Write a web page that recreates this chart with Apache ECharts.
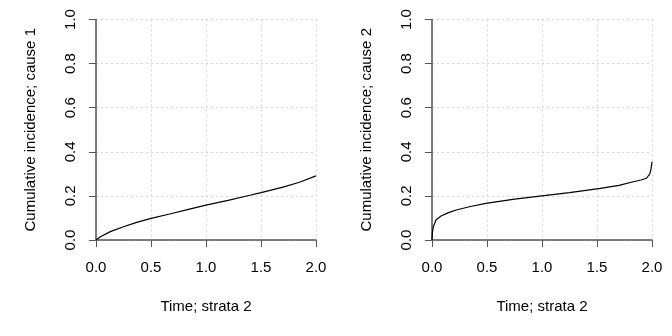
<!DOCTYPE html>
<html><head><meta charset="utf-8">
<script src="https://cdn.jsdelivr.net/npm/echarts@6/dist/echarts.min.js"></script>
<style>html,body{margin:0;padding:0;background:#fff}#c{width:672px;height:336px}</style>
</head><body><div id="c"></div>
<script>
var xTicks = [0, 0.5, 1.0, 1.5, 2.0];
var yTicks = [0, 0.2, 0.4, 0.6, 0.8, 1.0];
var xTitle = 'Time; strata 2';
var yTitle1 = 'Cumulative incidence; cause 1';
var yTitle2 = 'Cumulative incidence; cause 2';
var time1 = [0, 0.04, 0.13, 0.25, 0.37, 0.5, 0.67, 0.85, 1.0, 1.2, 1.4, 1.5, 1.7, 1.85, 2.0];
var cif1  = [0, 0.015, 0.038, 0.06, 0.08, 0.098, 0.118, 0.14, 0.158, 0.18, 0.203, 0.215, 0.24, 0.262, 0.291];
var time2 = [0, 0.004, 0.012, 0.036, 0.082, 0.15, 0.22, 0.35, 0.49, 0.75, 1.0, 1.25, 1.53, 1.7, 1.83, 1.9, 1.95, 1.98, 1.99, 2.0];
var cif2  = [0, 0.035, 0.06, 0.091, 0.109, 0.124, 0.136, 0.152, 0.166, 0.185, 0.2, 0.215, 0.234, 0.248, 0.264, 0.272, 0.28, 0.30, 0.32, 0.355];

function pairs(t, v) { return t.map(function (x, i) { return [x, v[i]]; }); }
var FONT = 'Liberation Sans, Arial, sans-serif';
var FS = 15;
function fmt(v) { return v.toFixed(1); }
function xAx(i) {
  return {
    type: 'value', gridIndex: i, min: 0, max: 2, interval: 0.5,
    name: xTitle, nameLocation: 'middle', nameGap: 59,
    nameTextStyle: { fontFamily: FONT, fontSize: FS, color: '#000' },
    axisLine: { show: true, lineStyle: { color: '#555', width: 1.5 } },
    axisTick: { show: true, length: 7, lineStyle: { color: '#555', width: 1 } },
    axisLabel: { margin: 20, formatter: fmt, fontFamily: FONT, fontSize: FS, color: '#000', showMinLabel: true, showMaxLabel: true },
    splitLine: { show: true, lineStyle: { color: '#d4d4d4', type: [2, 3], width: 1 } }
  };
}
function yAx(i, title) {
  return {
    type: 'value', gridIndex: i, min: 0, max: 1, interval: 0.2,
    name: title, nameLocation: 'middle', nameGap: 58,
    nameTextStyle: { fontFamily: FONT, fontSize: FS, color: '#000' },
    axisLine: { show: true, lineStyle: { color: '#555', width: 1.5 } },
    axisTick: { show: true, length: 7, lineStyle: { color: '#555', width: 1 } },
    axisLabel: { margin: 18, rotate: 90, formatter: fmt, fontFamily: FONT, fontSize: FS, color: '#000', showMinLabel: true, showMaxLabel: true },
    splitLine: { show: true, lineStyle: { color: '#d4d4d4', type: [2, 3], width: 1 } }
  };
}
var chart = echarts.init(document.getElementById('c'), null, { renderer: 'canvas' });
chart.setOption({
  animation: false,
  backgroundColor: '#fff',
  grid: [
    { left: 96, top: 19.5, width: 220, height: 220.5 },
    { left: 432, top: 19.5, width: 220, height: 220.5 }
  ],
  xAxis: [xAx(0), xAx(1)],
  yAxis: [yAx(0, yTitle1), yAx(1, yTitle2)],
  series: [
    { type: 'line', xAxisIndex: 0, yAxisIndex: 0, data: pairs(time1, cif1), showSymbol: false, smooth: false, lineStyle: { color: '#000', width: 1.2 } },
    { type: 'line', xAxisIndex: 1, yAxisIndex: 1, data: pairs(time2, cif2), showSymbol: false, smooth: false, lineStyle: { color: '#000', width: 1.2 } }
  ]
});
</script></body></html>
